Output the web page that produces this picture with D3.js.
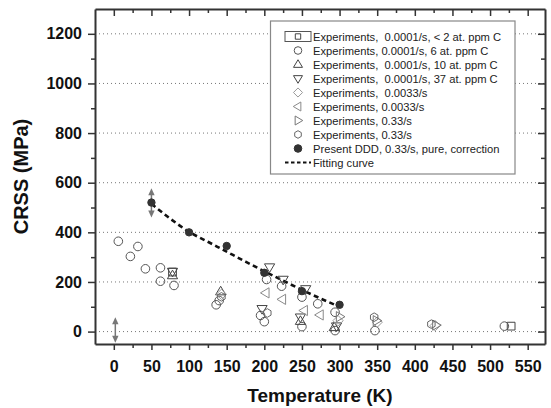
<!DOCTYPE html>
<html>
<head>
<meta charset="utf-8">
<script src="https://cdn.jsdelivr.net/npm/d3@7"></script>
<style>
  body { margin: 0; background: #fff; }
  text { font-family: "Liberation Sans", Arial, sans-serif; }
</style>
</head>
<body>
<div id="chart"></div>
<script>
// data: [temperature K, CRSS MPa]
const squareExp = [[78, 240], [528, 22]];
const circleExp = [[6, 364], [22, 303], [32, 343], [42, 253], [62, 257], [62, 203], [80, 186],
  [136, 108], [140, 125], [195, 65], [200, 40], [203, 210], [223, 183], [250, 139], [250, 20],
  [271, 112], [294, 78], [294, 4], [347, 4], [519, 22]];
const upTriExp = [[78, 226], [142, 161], [248, 42], [293, 17]];
const downTriExp = [[78, 242], [197, 92], [207, 260], [225, 210], [255, 172], [248, 58], [296, 22]];
const diamondExp = [[143, 150], [298, 44], [350, 38], [427, 24]];
const leftTriExp = [[202, 156], [224, 130], [253, 85], [274, 67]];
const rightTriExp = [[349, 44], [428, 26], [300, 60]];
const hexExp = [[143, 140], [204, 75], [346, 58], [422, 30]];
const dddPoints = [[50, 520], [100, 400], [150, 345], [200, 237], [250, 163], [300, 108]];
const fitCurve = [[50, 515], [75, 455], [100, 402], [125, 362], [150, 322], [175, 282],
  [200, 243], [225, 205], [250, 168], [275, 133], [300, 100]];
const errorArrows = [[50, 460, 578], [2, -45, 58]]; // [T, low, high]

const xTicks = [0, 50, 100, 150, 200, 250, 300, 350, 400, 450, 500, 550];
const yTicks = [0, 200, 400, 600, 800, 1000, 1200];

const legendLabels = [
  "Experiments,  0.0001/s, < 2 at. ppm C",
  "Experiments, 0.0001/s, 6 at. ppm C",
  "Experiments,  0.0001/s, 10 at. ppm C",
  "Experiments,  0.0001/s, 37 at. ppm C",
  "Experiments,  0.0033/s",
  "Experiments, 0.0033/s",
  "Experiments, 0.33/s",
  "Experiments, 0.33/s",
  "Present DDD, 0.33/s, pure, correction",
  "Fitting curve"
];

const width = 551;
const height = 408;
const plot = { left: 95, right: 545, top: 9, bottom: 344 };

const svg = d3.select("#chart").append("svg")
  .attr("width", width)
  .attr("height", height);

const x = d3.scaleLinear().domain([-25, 573]).range([plot.left, plot.right]);
const y = d3.scaleLinear().domain([-50, 1300]).range([plot.bottom, plot.top]);

// symbol shapes
function poly(pts) {
  return "M" + pts.map((p) => p[0].toFixed(2) + "," + p[1].toFixed(2)).join("L") + "Z";
}
function shape(kind, r) {
  if (kind === "circle" || kind === "filled") {
    return d3.symbol(d3.symbolCircle, Math.PI * r * r)();
  }
  if (kind === "square") {
    const s = r * 0.9;
    return poly([[-s, -s], [s, -s], [s, s], [-s, s]]);
  }
  if (kind === "diamond") {
    const s = r * 1.2;
    return poly([[0, -s], [s, 0], [0, s], [-s, 0]]);
  }
  if (kind === "hex") {
    return poly(d3.range(6).map((i) => {
      const a = Math.PI / 6 + (i * Math.PI) / 3;
      return [r * Math.cos(a), r * Math.sin(a)];
    }));
  }
  const t = r * 1.25;
  const base = [[0, -t], [t * 0.95, t * 0.6], [-t * 0.95, t * 0.6]];
  const rot = { up: 0, down: 180, left: -90, right: 90 }[kind];
  const a = (rot * Math.PI) / 180;
  return poly(base.map((p) => [p[0] * Math.cos(a) - p[1] * Math.sin(a), p[0] * Math.sin(a) + p[1] * Math.cos(a)]));
}

const series = [
  { data: squareExp, kind: "square", color: "#444" },
  { data: circleExp, kind: "circle", color: "#555" },
  { data: upTriExp, kind: "up", color: "#444" },
  { data: downTriExp, kind: "down", color: "#444" },
  { data: diamondExp, kind: "diamond", color: "#9a9a9a" },
  { data: leftTriExp, kind: "left", color: "#8a8a8a" },
  { data: rightTriExp, kind: "right", color: "#777" },
  { data: hexExp, kind: "hex", color: "#666" },
  { data: dddPoints, kind: "filled", color: "#333" }
];

// dotted grid
svg.append("g")
  .selectAll("line")
  .data(yTicks)
  .enter()
  .append("line")
  .attr("x1", plot.left)
  .attr("x2", plot.right)
  .attr("y1", (d) => y(d))
  .attr("y2", (d) => y(d))
  .attr("stroke", "#777")
  .attr("stroke-width", 1)
  .attr("stroke-dasharray", "1,3");

// legend box sits under the data (it covers the grid)
const legend = svg.append("g").attr("class", "legend");
legend.append("rect")
  .attr("x", 270.5).attr("y", 21)
  .attr("width", 244.5).attr("height", 153)
  .attr("fill", "#fff")
  .attr("stroke", "#888")
  .attr("stroke-width", 1.2);

// fitting curve
svg.append("path")
  .datum(fitCurve)
  .attr("d", d3.line().x((d) => x(d[0])).y((d) => y(d[1])).curve(d3.curveMonotoneX))
  .attr("fill", "none")
  .attr("stroke", "#111")
  .attr("stroke-width", 2.6)
  .attr("stroke-dasharray", "5,3.5");

// error arrows
function arrowHead(px, py, dir) {
  return poly([[px, py], [px - 3.2, py - dir * 7], [px + 3.2, py - dir * 7]]);
}
const arrows = svg.append("g");
errorArrows.forEach((a) => {
  const ax = x(a[0]);
  arrows.append("line")
    .attr("x1", ax).attr("x2", ax)
    .attr("y1", y(a[1]) - 5).attr("y2", y(a[2]) + 5)
    .attr("stroke", "#777").attr("stroke-width", 1.5);
  arrows.append("path").attr("d", arrowHead(ax, y(a[2]), -1)).attr("fill", "#777");
  arrows.append("path").attr("d", arrowHead(ax, y(a[1]), 1)).attr("fill", "#777");
});

// data points
series.forEach((s) => {
  svg.append("g")
    .selectAll("path")
    .data(s.data)
    .enter()
    .append("path")
    .attr("transform", (d) => `translate(${x(d[0])},${y(d[1])})`)
    .attr("d", shape(s.kind, s.kind === "filled" ? 3.7 : 4.3))
    .attr("fill", s.kind === "filled" ? s.color : "none")
    .attr("stroke", s.color)
    .attr("stroke-width", 1);
});

// axes
function styleAxis(g, labels) {
  g.select(".domain").attr("stroke", "#333").attr("stroke-width", 2);
  g.selectAll(".tick line").attr("stroke", "#333").attr("stroke-width", 1.5);
  if (!labels) g.selectAll(".tick text").remove();
  g.selectAll(".tick text")
    .attr("fill", "#111")
    .style("font-size", "16px")
    .style("font-weight", "bold");
}

const minorX = d3.range(25, 575, 50);
const minorY = d3.range(100, 1300, 200);
const fmt = d3.format("d");

svg.append("g")
  .attr("transform", `translate(0,${plot.bottom})`)
  .call(d3.axisBottom(x).tickValues(xTicks).tickFormat(fmt).tickSizeInner(6).tickSizeOuter(0).tickPadding(11))
  .call((g) => styleAxis(g, true));
svg.append("g")
  .attr("transform", `translate(0,${plot.bottom})`)
  .call(d3.axisBottom(x).tickValues(minorX).tickSize(4))
  .call((g) => { styleAxis(g, false); g.select(".domain").remove(); });

svg.append("g")
  .attr("transform", `translate(${plot.left},0)`)
  .call(d3.axisLeft(y).tickValues(yTicks).tickFormat(fmt).tickSizeInner(7).tickSizeOuter(0).tickPadding(6))
  .call((g) => styleAxis(g, true));
svg.append("g")
  .attr("transform", `translate(${plot.left},0)`)
  .call(d3.axisLeft(y).tickValues(minorY).tickSize(4))
  .call((g) => { styleAxis(g, false); g.select(".domain").remove(); });

svg.append("g")
  .attr("transform", `translate(0,${plot.top})`)
  .call(d3.axisTop(x).tickValues(xTicks).tickSizeInner(-7).tickSizeOuter(0))
  .call((g) => styleAxis(g, false));
svg.append("g")
  .attr("transform", `translate(0,${plot.top})`)
  .call(d3.axisTop(x).tickValues(minorX).tickSize(-4))
  .call((g) => { styleAxis(g, false); g.select(".domain").remove(); });

svg.append("g")
  .attr("transform", `translate(${plot.right},0)`)
  .call(d3.axisRight(y).tickValues(yTicks).tickSizeInner(-7).tickSizeOuter(0))
  .call((g) => styleAxis(g, false));
svg.append("g")
  .attr("transform", `translate(${plot.right},0)`)
  .call(d3.axisRight(y).tickValues(minorY).tickSize(-4))
  .call((g) => { styleAxis(g, false); g.select(".domain").remove(); });

// axis titles
svg.append("text")
  .attr("x", (plot.left + plot.right) / 2)
  .attr("y", 402)
  .attr("text-anchor", "middle")
  .style("font-size", "19px")
  .style("font-weight", "bold")
  .attr("fill", "#111")
  .text("Temperature (K)");

svg.append("text")
  .attr("transform", `translate(28,${(plot.top + plot.bottom) / 2}) rotate(-90)`)
  .attr("text-anchor", "middle")
  .style("font-size", "20px")
  .style("font-weight", "bold")
  .attr("fill", "#111")
  .text("CRSS (MPa)");

// legend rows
const rowY = (i) => 36.5 + i * 14;
legend.append("rect")
  .attr("x", 285).attr("y", 31.5)
  .attr("width", 26).attr("height", 10)
  .attr("fill", "none")
  .attr("stroke", "#555")
  .attr("stroke-width", 1);

series.forEach((s, i) => {
  legend.append("path")
    .attr("transform", `translate(298,${rowY(i)})`)
    .attr("d", shape(s.kind, i === 0 ? 3 : 3.8))
    .attr("fill", s.kind === "filled" ? s.color : "none")
    .attr("stroke", s.color)
    .attr("stroke-width", 1);
});
legend.append("line")
  .attr("x1", 285).attr("x2", 311)
  .attr("y1", rowY(9)).attr("y2", rowY(9))
  .attr("stroke", "#111")
  .attr("stroke-width", 2)
  .attr("stroke-dasharray", "3.5,2.5");

legend.selectAll("text.lab")
  .data(legendLabels)
  .enter()
  .append("text")
  .attr("class", "lab")
  .attr("x", 313)
  .attr("y", (d, i) => rowY(i) + 4)
  .style("font-size", "11.2px")
  .style("white-space", "pre")
  .attr("fill", "#222")
  .text((d) => d);
</script>
</body>
</html>
